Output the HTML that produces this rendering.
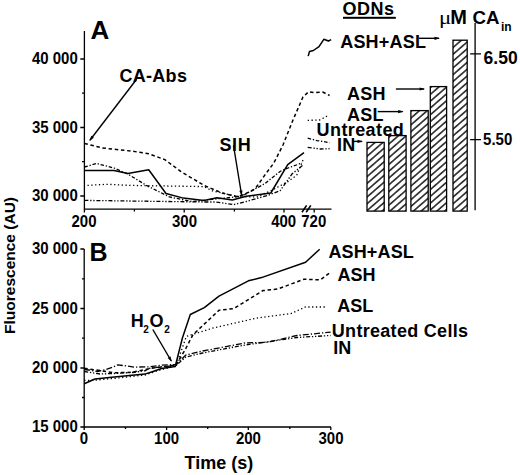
<!DOCTYPE html>
<html><head><meta charset="utf-8">
<style>
html,body{margin:0;padding:0;background:#fff;width:520px;height:475px;overflow:hidden}
svg{display:block}
text{font-family:"Liberation Sans",sans-serif;font-weight:bold;fill:#000}
.ax{stroke:#000;stroke-width:1.3;fill:none}
.sol{stroke:#000;stroke-width:1.5;fill:none;stroke-linejoin:round}
.dsh{stroke:#000;stroke-width:1.5;fill:none;stroke-dasharray:3.5 2.7}
.dot{stroke:#000;stroke-width:1.3;fill:none;stroke-dasharray:1.3 2.5}
.dd{stroke:#000;stroke-width:1.3;fill:none;stroke-dasharray:3.5 1.8 1.3 1.8}
.ddd{stroke:#000;stroke-width:1.3;fill:none;stroke-dasharray:4 1.8 1.3 1.8 1.3 1.8}
.dd2{stroke:#000;stroke-width:1.3;fill:none;stroke-dasharray:6 2 1.3 2}
.arr{stroke:#000;stroke-width:1.4;fill:none}
.t15{font-size:15px;transform-box:fill-box;transform-origin:50% 80%;transform:scaleY(1.04)}
.t18{font-size:18px}
.t25{font-size:25px}
</style></head>
<body>
<svg width="520" height="475" viewBox="0 0 520 475">
<defs>
<pattern id="hatch" patternUnits="userSpaceOnUse" x="0" y="2.17" width="10" height="5.13" patternTransform="rotate(-41)">
<path d="M-1,2.565 H11" stroke="#000" stroke-width="1.35"/>
</pattern>
<marker id="ah" markerWidth="6" markerHeight="6" refX="5" refY="3" orient="auto" markerUnits="userSpaceOnUse">
<path d="M0.5,1.4 L6,3 L0.5,4.6 z" fill="#000"/>
</marker>
</defs>

<!-- ============ PANEL A ============ -->
<text x="90.4" y="39" style="font-size:26px">A</text>
<!-- y axis -->
<path class="ax" d="M84.4,31 V209.2 H331.5"/>
<path class="ax" d="M80.3,59 H84.4 M82,93.2 H84.4 M80.3,127.5 H84.4 M82,161.7 H84.4 M80.3,196 H84.4"/>
<path class="ax" d="M84.4,209.2 V212.5 M134.4,209.2 V211.5 M184.2,209.2 V212.5 M234.4,209.2 V211.5 M284,209.2 V212.5 M314.2,209.2 V212.5"/>
<!-- break -->
<path d="M302,212.3 L306.6,205.4 M306.2,212.3 L310.8,205.4" stroke="#000" stroke-width="1.6"/>
<text class="t15" x="77.8" y="64.3" text-anchor="end">40 000</text>
<text class="t15" x="77.8" y="132.8" text-anchor="end">35 000</text>
<text class="t15" x="77.8" y="201.3" text-anchor="end">30 000</text>
<text class="t15" x="84" y="226.5" text-anchor="middle">200</text>
<text class="t15" x="184.5" y="226.5" text-anchor="middle">300</text>
<text class="t15" x="283.7" y="226.5" text-anchor="middle">400</text>
<text class="t15" x="313.8" y="226.5" text-anchor="middle">720</text>

<!-- curves A -->
<path class="dsh" d="M84.4,143.4 L102.5,148 L132.5,151.2 L148.7,153.8 L164.8,159.6 L181,171.6 L204,185.4 L222,193 L238,197 L246,193.5 L255,189 L264.6,175.4 L273.8,163 L283,145 L293,120 L303,97 L308.5,91.8 L315.3,92.6 L322.8,92.1 L329.6,95.5"/>
<path class="sol" d="M84.4,170.4 L114,170.4 L127.9,173.4 L148.7,169.7 L166,193.5 L183.3,198.1 L204,200.4 L216.9,197.7 L232.3,200 L246.2,196.2 L270.8,193 L287.7,164.6 L304,152.6"/>
<path class="sol" d="M308.2,56.1 L309.5,51.4 L313.4,50.5 L319,46.6 L323.8,39.3 L328.5,41 L331.1,39.7"/>
<path class="dd" d="M84.4,167 L96.7,163.5 L114,168 L127.8,174 L146.4,185.4 L169.5,197 L192.5,201.6 L215,199 L235,197 L244.6,194.6 L264.6,183.8 L280,171.5 L288,168 L302,163"/>
<path class="dot" d="M87.5,185.4 L107,184.3 L130,185.4 L204,186.6 L212.3,190.8 L240,197 L257.6,196.8 L272.7,189.8 L287.9,181.6 L296.7,175.3 L303,160"/>
<path class="ddd" d="M84.4,200.4 L204,202 L215.4,202 L233.8,204.6 L246.2,201.5 L267.7,195.4 L280,190.8 L292,174 L303,165"/>
<path class="dot" d="M307.7,120.4 L319.5,120 L327.9,115.7"/>
<path class="dd" d="M307.7,138.1 L317,140.6 L329.6,142.6"/>
<path class="ddd" d="M307.7,147.3 L320.3,149 L329.6,148.7"/>

<!-- annotations A -->
<text class="t18" x="119.4" y="82.2" letter-spacing="0.3">CA-Abs</text>
<path class="arr" d="M136.6,79.2 L89.9,140.3" marker-end="url(#ah)"/>
<text class="t18" x="219.5" y="151.3" letter-spacing="0.6">SIH</text>
<path class="arr" d="M233.5,145.5 L241.6,195" marker-end="url(#ah)"/>

<!-- bar inset -->
<text class="t18" x="342.6" y="14.8" letter-spacing="0.5">ODNs</text>
<rect x="343" y="16.8" width="52.8" height="2" fill="#000"/>
<text transform="translate(439,24) scale(1.2,1)" style="font-family:'Liberation Serif',serif;font-weight:normal;font-size:19px">μ</text>
<text x="450.3" y="24.3" style="font-size:20px">M</text>
<text x="472.6" y="24.3" style="font-size:18.7px">CA</text>
<text x="501" y="31" style="font-size:12px">in</text>
<path class="ax" d="M475.1,22.9 V210.2 M470.1,53.8 H481 M470.1,139.6 H481"/>
<text x="483.6" y="63.8" style="font-size:17.5px">6.50</text>
<text class="t15" x="483.1" y="144.8">5.50</text>
<g stroke="#000" stroke-width="1.3" fill="url(#hatch)">
<rect x="367" y="142.4" width="17.2" height="68.7"/>
<rect x="388.8" y="135.6" width="17.3" height="75.5"/>
<rect x="410.9" y="110.6" width="17.3" height="100.5"/>
<rect x="430.3" y="86.6" width="16.3" height="124.5"/>
<rect x="453" y="40.2" width="14.2" height="170.9"/>
</g>
<text class="t18" x="340.2" y="48.4" letter-spacing="0.2">ASH+ASL</text>
<path class="arr" d="M419,38.3 H439" marker-end="url(#ah)"/>
<text class="t18" x="347" y="100" letter-spacing="0.3">ASH</text>
<path class="arr" d="M395.9,89 H424.1" marker-end="url(#ah)"/>
<text class="t18" x="347" y="120.5" letter-spacing="0.3">ASL</text>
<path class="arr" d="M377.7,111.6 H402.6" marker-end="url(#ah)"/>
<text class="t18" x="316.6" y="136.2" letter-spacing="0.4">Untreated</text>
<text class="t18" x="337" y="150.9" letter-spacing="0.3">IN</text>
<path class="arr" d="M352,141.4 H362" marker-end="url(#ah)"/>

<!-- ============ PANEL B ============ -->
<text class="t25" x="89.5" y="260.8">B</text>
<path class="ax" d="M84.2,249 V427 H331"/>
<path class="ax" d="M80.4,249 H84.2 M82,278.8 H84.2 M80.4,308.5 H84.2 M82,338.2 H84.2 M80.4,368 H84.2 M82,397.5 H84.2 M80.4,427 H84.2"/>
<path class="ax" d="M84.2,427 V430 M125.5,427 V429 M166.6,427 V430 M207.7,427 V429 M248.3,427 V430 M289.8,427 V429 M330.8,427 V430"/>
<text class="t15" x="77.8" y="254.2" text-anchor="end">30 000</text>
<text class="t15" x="77.8" y="313.7" text-anchor="end">25 000</text>
<text class="t15" x="77.8" y="373.2" text-anchor="end">20 000</text>
<text class="t15" x="77.8" y="432.2" text-anchor="end">15 000</text>
<text class="t15" x="84" y="444.4" text-anchor="middle">0</text>
<text class="t15" x="166.6" y="444.4" text-anchor="middle">100</text>
<text class="t15" x="248.4" y="444.4" text-anchor="middle">200</text>
<text class="t15" x="331" y="444.4" text-anchor="middle">300</text>
<text class="t18" x="184.6" y="469.3">Time (s)</text>
<text transform="translate(14.6,265.5) rotate(-90)" text-anchor="middle" style="font-size:15.5px">Fluorescence (AU)</text>

<!-- curves B -->
<path class="sol" d="M84.2,383.7 L95,379 L111.7,377.2 L144.9,374.1 L152.3,371.7 L161.5,368.5 L175.2,366.5 L182.4,338 L190.3,314.5 L204.3,307.6 L219,296.2 L248.4,280.8 L261.5,277.6 L305.6,262.2 L319.7,249.2"/>
<path class="dsh" d="M84.2,368.3 L100,370.5 L113.5,372.8 L132,372.3 L150,368.5 L176,365 L185,350 L192.9,334.8 L219,310.3 L233.7,308.6 L263,290.6 L277.8,289 L304,279.2 L320.3,279.9 L330,272.7"/>
<path class="dot" d="M84.2,380.5 L96.9,380 L117.2,378.1 L145,375 L160,370 L176,366 L186.3,336.4 L212.5,328.2 L255,318.4 L291,313.5 L305.6,307 L326.9,307"/>
<path class="dd2" d="M84.2,369.5 L88.8,370 L97.5,371.5 L106,369.5 L112.8,367.1 L117.7,364.9 L124.4,365.7 L134,367.1 L150,366.8 L162,365.2 L176,364.5 L185.8,355 L202.7,351 L245,343 L268,342.2 L297,335.5 L330.6,332.1"/>
<path class="ddd" d="M84.2,371.5 L100,374 L113.5,373.5 L132,372.5 L144.9,370.8 L150.4,368 L176,365.5 L185.8,357 L202.7,353 L245,345 L270,341.5 L297,337.5 L330.6,335.5"/>

<!-- annotations B -->
<text x="130.8" y="326.5" style="font-size:18px">H</text>
<text x="143.3" y="332.8" style="font-size:10px">2</text>
<text x="149.4" y="326.5" style="font-size:18px">O</text>
<text x="164.3" y="332.8" style="font-size:10px">2</text>
<path class="arr" d="M152.8,329.5 L171.3,361" marker-end="url(#ah)"/>
<text class="t18" x="328.4" y="258.1" letter-spacing="0.15">ASH+ASL</text>
<text class="t18" x="337.5" y="280.6">ASH</text>
<text class="t18" x="337.2" y="312.3">ASL</text>
<text class="t18" x="331.8" y="337.1" letter-spacing="0.3">Untreated Cells</text>
<text class="t18" x="333.3" y="353.5">IN</text>
</svg>
</body></html>
